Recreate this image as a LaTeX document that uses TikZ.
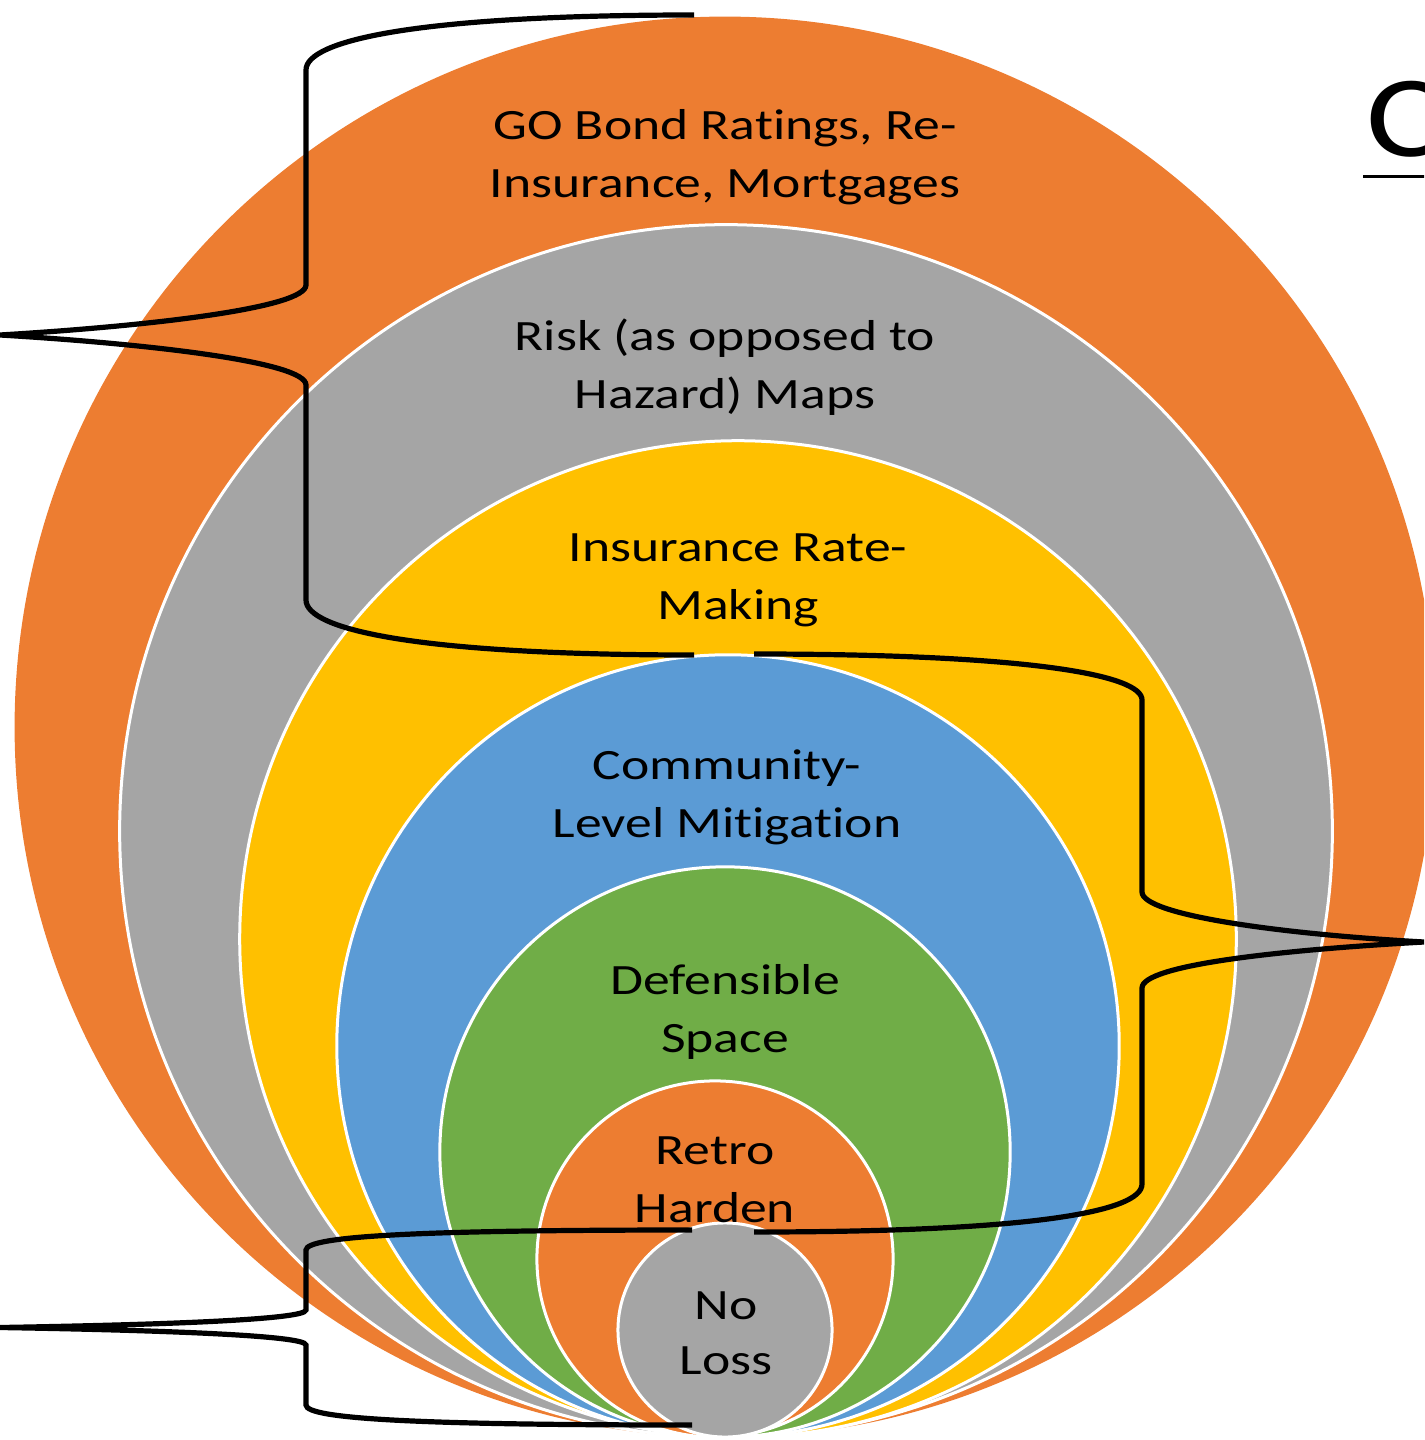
\documentclass[tikz,border=0pt]{standalone}
\usepackage{fontspec}
\setmainfont{Carlito}[FakeStretch=1.24, Ligatures=NoCommon]
\definecolor{ringorange}{HTML}{ED7D31}
\definecolor{ringgray}{HTML}{A5A5A5}
\definecolor{ringgold}{HTML}{FFC000}
\definecolor{ringblue}{HTML}{5B9BD5}
\definecolor{ringgreen}{HTML}{70AD47}
\begin{document}
\begin{tikzpicture}[x=0.01cm, y=-0.01cm,
  ring/.style={draw=white, line width=0.03cm},
  brace/.style={draw=black, line width=0.052cm},
  every node/.style={align=center, inner sep=0pt, font=\fontsize{12.3}{16.5}\selectfont}]
\clip (0,0) rectangle (1424,1440);

% Circles
\fill[ringorange] (725,727) circle[radius=7.10cm];
\filldraw[ring, fill=ringgray] (726,831) circle[radius=6.06cm];
\filldraw[ring, fill=ringgold] (738,939) circle[radius=4.98cm];
\filldraw[ring, fill=ringblue] (728,1046) circle[radius=3.91cm];
\filldraw[ring, fill=ringgreen] (725,1152) circle[radius=2.85cm];
\filldraw[ring, fill=ringorange] (715,1259) circle[radius=1.78cm];
\filldraw[ring, fill=ringgray] (725,1330) circle[radius=1.07cm];

% Labels
\node (bond) at (725,157) {GO Bond Ratings, Re-\\Insurance, Mortgages};
\node (riskmap) at (725,367) {Risk (as opposed to\\Hazard) Maps};
\node (rate) at (738,580) {Insurance Rate-\\Making};
\node (community) at (727,797) {Community-\\Level Mitigation};
\node (space) at (725,1012) {Defensible\\Space};
\node (harden) at (715,1180) {Retro\\Harden};
\node[font=\fontsize{12.3}{15.6}\selectfont] (noloss) at (726,1333) {No\\Loss};
\node[anchor=base west, font=\fontsize{33}{38}\selectfont] (title) at (1366,157) {C};
\draw[line width=0.03cm] ([yshift=-0.195cm]title.base west) ++(-3,0) -- ++(100,0);

% Braces
\coordinate (tipA) at (0,335);
\coordinate (tipB) at (1424,942);
\coordinate (tipC) at (0,1327.5);
\draw[brace] (694,15) .. controls (420,15) and (306,40) .. (306,70) -- (306,285)
  .. controls (306,308) and (150,326) .. (tipA)
  .. controls (150,344) and (306,362) .. (306,385) -- (306,600)
  .. controls (306,630) and (420,655) .. (694,655);
\draw[brace] (754,654) .. controls (1030,654) and (1142,675) .. (1142,700) -- (1142,892)
  .. controls (1142,915) and (1280,934) .. (tipB)
  .. controls (1280,950) and (1142,965) .. (1142,988) -- (1142,1184)
  .. controls (1142,1212) and (1030,1232) .. (754,1232);
\draw[brace] (692,1230) .. controls (420,1230) and (306,1236) .. (306,1250) -- (306,1310)
  .. controls (306,1320) and (150,1325) .. (tipC)
  .. controls (150,1330) and (306,1335) .. (306,1345) -- (306,1405)
  .. controls (306,1419) and (420,1425) .. (692,1425);
\end{tikzpicture}
\end{document}
